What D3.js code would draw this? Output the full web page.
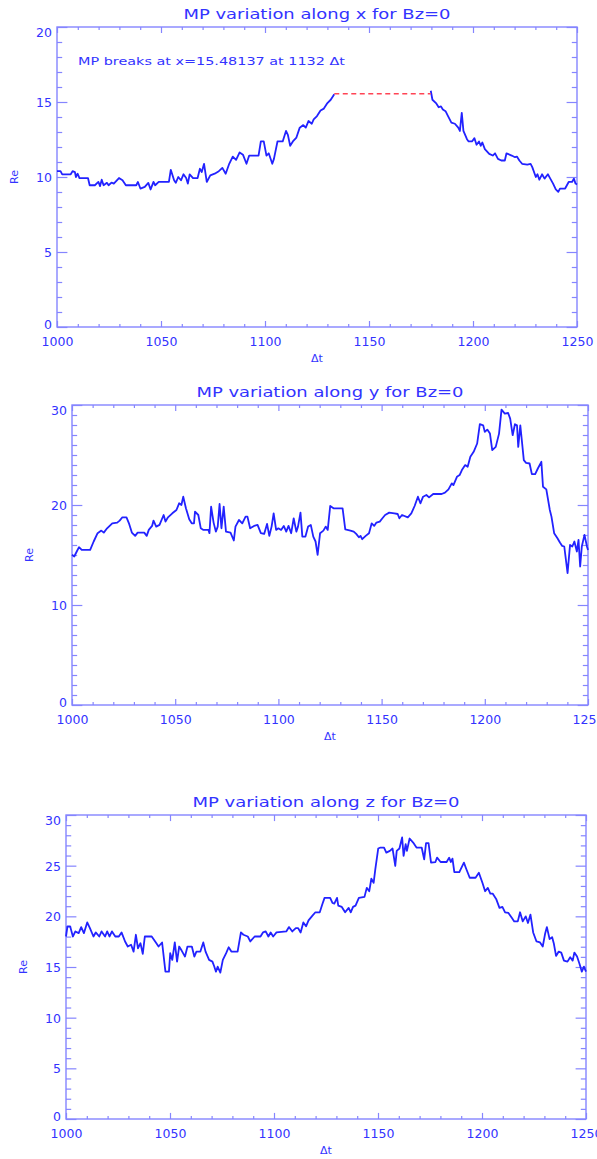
<!DOCTYPE html>
<html><head><meta charset="utf-8">
<script src="https://cdn.jsdelivr.net/npm/d3@7"></script>
<style>
body{margin:0;background:#fff}
svg{display:block}
text{font-family:"DejaVu Sans",sans-serif;fill:#3333ff}
</style>
</head><body>
<svg id="c" width="597" height="1159"></svg>
<script>
// ---------- DATA ----------
const xTickValues = [1000, 1050, 1100, 1150, 1200, 1250];
const yTicksX = [0, 5, 10, 15, 20];
const yTicksY = [0, 10, 20, 30];
const yTicksZ = [0, 5, 10, 15, 20, 25, 30];

// panel x: before the break
const tXa = [1000,1001.7,1002.5,1006.6,1007.5,1008.6,1009.1,1009.9,1010.8,1014.9,
1015.7,1018.2,1019.9,1020.7,1021.5,1022.4,1024.0,1024.8,1026.2,1027.3,
1029.8,1031.5,1033.1,1038.1,1038.9,1040.1,1042.2,1043.9,1045.0,1046.4,
1047.2,1048.9,1053.8,1054.7,1056.3,1057.1,1058.3,1059.6,1060.8,1062.1,
1062.9,1063.8,1065.4,1067.6,1068.7,1069.6,1070.7,1072.0,1073.7,1075.8,
1077.8,1079.5,1081.1,1082.8,1084.5,1086.1,1087.8,1089.4,1091.1,1092.4,
1096.9,1098.0,1099.4,1100.7,1101.8,1103.5,1104.3,1106.0,1108.5,1110.1,
1111.0,1112.1,1113.4,1115.1,1116.7,1118.4,1119.6,1120.9,1122.5,1123.4,
1125.0,1126.7,1128.3,1130.0,1131.6,1133.3];
const rXa = [10.39,10.39,10.18,10.18,10.39,10.33,10.0,10.22,9.93,9.93,
9.45,9.45,9.67,9.39,9.82,9.45,9.61,9.45,9.63,9.56,
9.93,9.78,9.45,9.45,9.67,9.23,9.34,9.61,9.17,9.67,
9.45,9.67,9.67,10.48,9.78,9.61,10.0,9.78,10.18,9.93,
9.56,10.18,9.93,9.93,10.55,10.33,10.88,9.67,10.11,10.22,
10.39,10.61,10.22,10.88,11.36,11.14,11.64,11.49,10.88,11.43,
11.43,12.37,12.37,11.43,11.58,10.88,11.21,12.37,12.37,13.07,
12.81,12.08,12.37,12.63,13.29,13.46,13.29,13.73,13.55,13.84,
14.06,14.43,14.56,14.93,15.15,15.52];
// panel x: after the break
const tXb = [1179.7,1180.5,1182.2,1183.5,1184.6,1185.5,1186.8,1188.0,1189.6,1191.3,
1192.9,1193.7,1194.6,1195.4,1197.1,1197.9,1199.5,1200.7,1201.7,1202.9,
1203.7,1204.5,1205.7,1207.8,1209.5,1210.6,1212.0,1213.6,1215.3,1216.1,
1218.6,1220.2,1221.1,1222.3,1223.6,1226.1,1227.7,1228.5,1230.2,1231.0,
1231.9,1233.2,1234.4,1236.0,1236.9,1238.5,1239.8,1241.0,1241.8,1244.3,
1246.0,1247.6,1248.5,1249.3,1250];
const rXb = [15.75,15.15,14.93,14.65,14.71,14.50,14.39,14.06,13.62,13.55,
13.29,13.07,14.28,13.07,12.52,12.37,12.37,12.59,12.15,12.37,
12.08,12.30,11.86,11.54,11.43,11.58,11.21,11.10,11.10,11.58,
11.43,11.32,11.36,11.10,10.88,10.83,10.88,10.66,10.0,10.18,
9.82,10.18,9.89,10.18,9.96,9.56,9.17,9.01,9.23,9.23,
9.67,9.67,9.89,9.56,9.5];
// break marker (dashed)
const breakT = [1133.3, 1179.7];
const breakR = [15.55, 15.55];

// panel y
const tY = [1000,1001.1,1002.3,1003.4,1004.7,1008.8,1010.5,1012.4,1014.2,1015.4,
1017.0,1019.5,1021.9,1023.1,1024.4,1026.4,1027.7,1029.0,1030.6,1031.8,
1035.0,1036.2,1037.2,1038.8,1039.5,1040.8,1042.4,1044.4,1045.3,1046.5,
1048.6,1050.6,1051.9,1053.0,1053.9,1055.2,1056.8,1058.0,1059.1,1059.6,
1061.2,1062.4,1063.7,1066.1,1066.6,1067.4,1068.6,1069.7,1070.6,1071.5,
1072.4,1073.5,1074.6,1076.8,1078.4,1079.2,1080.9,1082.5,1084.1,1085.0,
1086.3,1088.2,1089.9,1091.5,1093.1,1094.5,1095.6,1096.7,1097.7,1098.9,
1100.0,1101.3,1102.6,1103.8,1104.9,1106.2,1107.4,1108.7,1109.5,1110.7,
1111.6,1113.1,1114.4,1115.7,1116.9,1118.0,1119.0,1120.2,1121.8,1122.9,
1123.9,1125.1,1126.7,1131.1,1132.4,1134.9,1136.5,1137.7,1139.0,1139.8,
1140.6,1142.3,1143.9,1145.2,1146.4,1147.5,1149.1,1150.4,1151.7,1153.7,
1156.2,1157.8,1158.6,1159.9,1162.7,1164.4,1166.0,1167.6,1168.8,1170.1,
1171.7,1173.0,1175.0,1179.1,1180.7,1182.4,1184.0,1184.8,1186.5,1187.8,
1188.9,1190.5,1191.7,1193.0,1194.6,1196.3,1197.6,1199.2,1200.0,1201.2,
1202.5,1203.6,1205.3,1206.9,1208.1,1209.7,1211.3,1212.3,1213.5,1214.6,
1215.6,1216.2,1217.2,1217.9,1218.9,1220.0,1221.7,1222.8,1224.4,1225.7,
1227.4,1228.2,1229.8,1231.5,1232.3,1233.6,1235.2,1236.4,1237.5,1238.5,
1240.1,1241.3,1242.4,1243.4,1244.6,1245.4,1246.2,1247.0,1248.3,1249.5,
1250];
const rY = [15.02,14.85,15.35,15.78,15.51,15.51,16.35,17.18,17.44,17.24,
17.67,18.17,18.24,18.44,18.77,18.77,18.11,17.24,16.91,17.24,
17.24,16.91,17.51,17.91,18.44,17.84,18.01,19.0,18.34,18.77,
19.17,19.50,20.17,20.0,20.83,19.67,18.57,18.17,18.17,19.34,
19.0,17.67,17.51,17.51,17.18,19.83,18.24,17.34,17.84,20.10,
17.67,19.83,17.34,17.24,16.45,17.84,18.50,18.17,18.84,18.84,
17.67,17.91,18.01,17.18,17.11,18.11,16.91,17.84,19.17,17.51,
17.67,17.51,17.91,17.34,17.91,17.18,18.67,17.34,17.84,19.24,
16.84,16.84,17.84,18.01,16.84,16.35,15.02,17.18,17.44,17.84,
17.51,19.90,19.67,19.67,17.57,17.44,17.34,17.11,16.78,16.91,
16.58,16.91,17.18,18.17,17.91,18.24,18.34,18.67,19.0,19.24,
19.17,19.10,18.67,19.0,18.77,19.17,19.90,20.83,20.17,20.83,
21.0,20.76,21.10,21.10,21.23,21.56,22.16,21.99,22.82,22.99,
23.49,23.99,23.82,24.82,25.32,26.15,28.08,27.97,27.31,27.54,
27.14,25.48,25.81,27.14,29.53,29.14,29.20,28.64,26.98,28.08,
27.97,25.81,27.97,26.55,24.49,24.22,24.15,23.09,23.09,23.65,
24.32,21.83,21.56,19.50,18.84,17.18,16.68,16.25,15.91,15.85,
13.19,16.01,15.85,16.35,15.35,16.51,13.85,15.85,17.01,15.85,
15.51];

// panel z
const tZ = [1000,1000.7,1002.0,1003.3,1004.5,1006.1,1007.3,1008.6,1010.2,1011.5,
1013.2,1014.3,1016.0,1017.1,1018.8,1019.8,1020.9,1022.1,1023.7,1025.4,
1026.7,1028.4,1029.7,1031.3,1032.5,1033.6,1034.6,1035.8,1036.9,1037.9,
1041.2,1043.2,1044.5,1046.2,1047.8,1049.5,1050.1,1051.1,1052.3,1053.4,
1054.4,1055.6,1057.2,1058.4,1060.5,1061.7,1062.7,1064.6,1066.0,1067.1,
1068.8,1070.4,1071.2,1072.1,1072.9,1074.2,1075.4,1077.0,1078.2,1079.5,
1082.5,1084.1,1085.3,1087.4,1088.6,1090.7,1093.5,1094.7,1096.0,1097.3,
1098.4,1099.6,1101.2,1105.9,1107.2,1108.8,1110.5,1111.6,1112.8,1114.1,
1115.4,1116.6,1118.2,1119.9,1122.0,1123.2,1124.3,1127.0,1128.1,1129.0,
1130.3,1130.9,1132.6,1134.2,1135.9,1136.9,1138.0,1139.2,1140.8,1143.5,
1144.6,1145.8,1146.8,1147.9,1148.7,1150.1,1151.2,1152.9,1154.0,1155.7,
1157.0,1158.3,1159.0,1160.3,1161.6,1162.3,1163.3,1163.9,1165.2,1166.9,
1168.5,1171.0,1172.2,1173.1,1174.3,1175.5,1177.6,1178.4,1180.1,1183.0,
1184.2,1185.0,1185.8,1186.7,1189.1,1191.3,1192.4,1194.1,1196.9,1198.5,
1200.2,1201.5,1202.8,1204.0,1205.1,1206.8,1208.4,1209.8,1211.1,1212.7,
1214.4,1215.5,1217.2,1218.3,1219.6,1221.0,1222.1,1223.3,1224.6,1226.2,
1227.9,1229.2,1230.4,1231.2,1232.5,1233.7,1234.5,1235.6,1236.9,1238.1,
1239.4,1241.1,1242.4,1243.6,1244.4,1245.7,1246.9,1248.0,1249.0,1250];
const rZ = [18.01,19.01,19.01,18.01,18.51,18.34,18.94,18.34,19.40,18.84,
18.01,18.41,18.01,18.51,18.01,18.51,18.01,18.51,18.01,18.01,
18.41,17.52,17.02,17.19,16.52,18.18,16.85,17.35,16.29,18.01,
18.01,17.42,17.02,17.42,14.54,14.54,16.36,15.70,17.42,15.53,
17.02,16.62,16.03,17.02,17.02,16.03,16.52,16.52,17.42,16.52,
15.70,15.53,15.10,14.54,15.03,14.44,15.70,16.36,16.95,16.52,
16.52,18.41,18.18,18.01,17.52,18.01,18.01,18.41,18.51,18.01,
18.41,18.01,18.41,18.51,18.94,18.51,18.84,18.84,18.41,19.40,
19.01,19.60,20.0,20.40,20.40,21.16,21.82,21.82,21.32,21.26,
21.82,21.06,20.93,20.40,20.83,20.40,20.93,21.06,21.82,21.92,
22.81,22.48,23.71,23.31,24.64,26.69,26.79,26.79,26.29,26.46,
26.69,24.97,26.46,26.69,27.78,25.96,27.12,26.46,27.68,27.28,
26.79,26.79,25.63,27.22,27.22,25.30,25.36,25.79,25.36,25.36,
25.79,25.36,25.70,24.37,24.37,25.30,24.70,23.81,23.81,24.30,
23.31,22.48,22.81,22.25,22.25,21.72,20.83,20.93,20.40,20.33,
19.83,19.50,19.50,20.40,19.50,20.0,19.34,20.17,18.41,17.52,
17.42,17.02,18.34,18.94,17.75,17.95,17.35,16.09,16.52,16.42,
15.63,15.53,15.96,15.63,16.42,16.03,15.30,14.54,15.03,14.54];

const titles = ["MP variation along x for Bz=0","MP variation along y for Bz=0","MP variation along z for Bz=0"];
const note = "MP breaks at x=15.48137 at 1132 \u0394t";

// ---------- LAYOUT ----------
const AXIS = "#8585ff", LINE = "#2222ff", TXT = "#3333ff", RED = "#ff4455";
const svg = d3.select("#c");
const zip = (t, r) => t.map((v, i) => ({t: v, r: r[i]}));

const panels = [
  {box:{l:57,t:27,r:577,b:327}, yMax:20, yTicks:yTicksX, series:[zip(tXa,rXa), zip(tXb,rXb)], title:titles[0]},
  {box:{l:72,t:405,r:588,b:705}, yMax:30, yTicks:yTicksY, series:[zip(tY,rY)], title:titles[1]},
  {box:{l:66,t:815,r:586,b:1119}, yMax:30, yTicks:yTicksZ, series:[zip(tZ,rZ)], title:titles[2]}
];

panels.forEach((p, pi) => {
  const B = p.box, W = B.r - B.l, H = B.b - B.t;
  const x = d3.scaleLinear().domain([1000, 1250]).range([B.l, B.r]);
  const y = d3.scaleLinear().domain([0, p.yMax]).range([B.b, B.t]);
  const xMinor = d3.range(1000, 1251, 10).filter(v => v % 50 !== 0);
  const yMinor = d3.range(0, p.yMax + 0.001, 1).filter(v => !p.yTicks.includes(v));
  const xl = 0.02 * H, yl = 0.02 * W;
  const g = svg.append("g");

  function styleAxis(sel){
    sel.select(".domain").remove();
    sel.selectAll("line").attr("stroke", AXIS).attr("stroke-width", 1.2);
  }
  // frame
  g.append("rect").attr("x", B.l).attr("y", B.t).attr("width", W).attr("height", H)
    .attr("fill", "none").attr("stroke", AXIS).attr("stroke-width", 1.4);

  // bottom (major with labels)
  const bot = g.append("g").attr("transform", `translate(0,${B.b})`)
    .call(d3.axisBottom(x).tickValues(xTickValues).tickFormat(d3.format("d")).tickSize(-xl).tickPadding(10));
  styleAxis(bot);
  bot.selectAll("text").attr("font-size", 12.5).attr("fill", TXT).style("font-family", '"DejaVu Sans",sans-serif');
  const botm = g.append("g").attr("transform", `translate(0,${B.b})`)
    .call(d3.axisBottom(x).tickValues(xMinor).tickFormat("").tickSize(-xl/2));
  styleAxis(botm);
  // top
  const top = g.append("g").attr("transform", `translate(0,${B.t})`)
    .call(d3.axisTop(x).tickValues(xTickValues).tickFormat("").tickSize(-xl));
  styleAxis(top);
  const topm = g.append("g").attr("transform", `translate(0,${B.t})`)
    .call(d3.axisTop(x).tickValues(xMinor).tickFormat("").tickSize(-xl/2));
  styleAxis(topm);
  // left
  const left = g.append("g").attr("transform", `translate(${B.l},0)`)
    .call(d3.axisLeft(y).tickValues(p.yTicks).tickFormat(d3.format("d")).tickSize(-yl).tickPadding(5));
  styleAxis(left);
  left.selectAll("text").attr("font-size", 12.5).attr("fill", TXT).style("font-family", '"DejaVu Sans",sans-serif')
    .attr("dy", d => d === p.yMax ? "0.75em" : (d === 0 ? "0.1em" : "0.36em"));
  const leftm = g.append("g").attr("transform", `translate(${B.l},0)`)
    .call(d3.axisLeft(y).tickValues(yMinor).tickFormat("").tickSize(-yl/2));
  styleAxis(leftm);
  // right
  const right = g.append("g").attr("transform", `translate(${B.r},0)`)
    .call(d3.axisRight(y).tickValues(p.yTicks).tickFormat("").tickSize(-yl));
  styleAxis(right);
  const rightm = g.append("g").attr("transform", `translate(${B.r},0)`)
    .call(d3.axisRight(y).tickValues(yMinor).tickFormat("").tickSize(-yl/2));
  styleAxis(rightm);

  // data
  const line = d3.line().x(d => x(d.t)).y(d => y(d.r));
  p.series.forEach(s => {
    g.append("path").datum(s).attr("d", line).attr("fill", "none")
      .attr("stroke", LINE).attr("stroke-width", 1.8).attr("stroke-linejoin", "round");
  });
  if (pi === 0) {
    g.append("path").datum(zip(breakT, breakR)).attr("d", line).attr("fill", "none")
      .attr("stroke", RED).attr("stroke-width", 1.4).attr("stroke-dasharray", "5,3.5");
    g.append("text").attr("x", B.l + 21).attr("y", B.t + 38).attr("font-size", 11)
      .attr("textLength", 267).attr("lengthAdjust", "spacingAndGlyphs").text(note);
  }

  // titles & labels
  g.append("text").attr("x", (B.l + B.r) / 2).attr("y", B.t - 8).attr("text-anchor", "middle")
    .attr("font-size", 14).attr("textLength", 267).attr("lengthAdjust", "spacingAndGlyphs").text(p.title);
  g.append("text").attr("transform", `translate(${B.l - 39},${(B.t + B.b) / 2}) rotate(-90)`)
    .attr("text-anchor", "middle").attr("font-size", 11).text("Re");
  g.append("text").attr("x", (B.l + B.r) / 2).attr("y", B.b + 35).attr("text-anchor", "middle")
    .attr("font-size", 11).text("\u0394t");
});
</script>
</body></html>
